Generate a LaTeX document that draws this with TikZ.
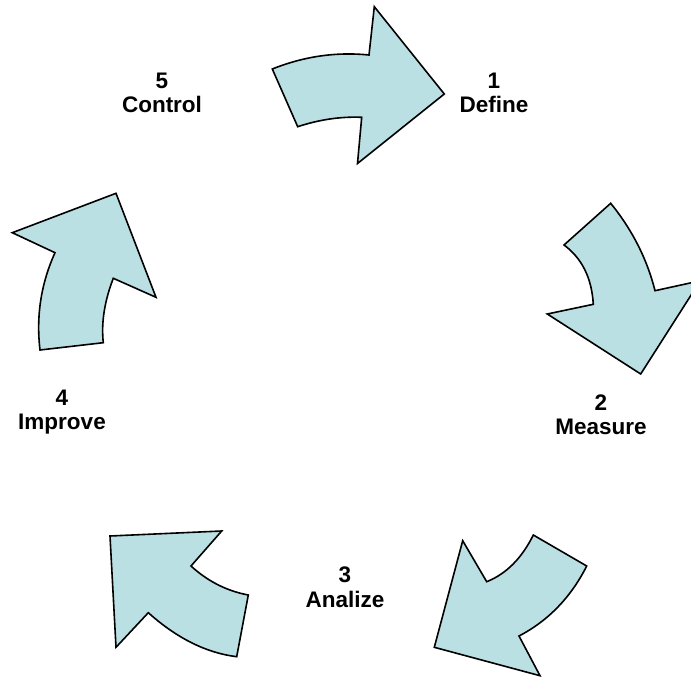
\documentclass[tikz,border=0pt]{standalone}
\usepackage{fontspec}
\setmainfont{Liberation Sans}
\begin{document}
\begin{tikzpicture}[x=1pt,y=-1pt,
  cyclearrow/.style={draw=black, fill=arrowfill, line width=1.6pt, line join=miter},
  steplabel/.style={font=\bfseries\fontsize{22.5}{24.5}\selectfont, align=center, inner sep=0pt}]
\definecolor{arrowfill}{HTML}{BBE0E3}
\useasboundingbox (0,0) rectangle (691,677);
\clip (0,0) rectangle (691,677);

% 1 -> 2 : top arrow
\draw[cyclearrow] (272.3,69) .. controls (304.1,56.3) and (336.3,51.7) .. (369,55)
  -- (374.3,6.7) -- (444.3,94) -- (357.5,163.5) -- (361.7,117.3)
  .. controls (340.6,116.4) and (319.2,119.6) .. (297.7,126.7) -- cycle;

% 2 -> 3 : right arrow
\draw[cyclearrow] (610.7,203.3) -- (564,245)
  .. controls (582,258.3) and (591.8,278.1) .. (593.3,304.3)
  -- (547.3,314) -- (640.7,374) -- (700.2,280.8) -- (655,290.7)
  .. controls (647,258.9) and (632.2,229.8) .. cycle;

% 3 -> 4 : bottom right arrow
\draw[cyclearrow] (533.3,535) -- (586.7,566)
  .. controls (570.9,597.3) and (548.3,620.7) .. (519,636)
  -- (540,675.7) -- (434.3,647.3) -- (462.7,540.7) -- (486.7,581.7)
  .. controls (506.2,573.9) and (521.8,558.3) .. cycle;

% 4 -> 5 : bottom left arrow
\draw[cyclearrow] (110,536) -- (221.7,531) -- (191,566)
  .. controls (207.7,581.3) and (226.8,591) .. (248.3,595)
  -- (236.7,656.7)
  .. controls (206.2,652.9) and (176.8,638.2) .. (148.3,612.7)
  -- (116,647.3) -- cycle;

% 5 -> 1 : left arrow
\draw[cyclearrow] (116,193.3) -- (156,297.3) -- (113.3,278.3)
  .. controls (104.4,301.4) and (101.1,322.9) .. (103.3,342.7)
  -- (40,350)
  .. controls (36,316) and (41,283.6) .. (55,252.7)
  -- (12.3,232.7) -- cycle;

% step labels
\node[steplabel] (define)  at (494,93)  {1\\Define};
\node[steplabel] (measure) at (601,415) {2\\Measure};
\node[steplabel] (analize) at (345,587) {3\\Analize};
\node[steplabel] (improve) at (62,412)  {4\\Improve};
\node[steplabel] (control) at (162,93)  {5\\Control};
\end{tikzpicture}
\end{document}
